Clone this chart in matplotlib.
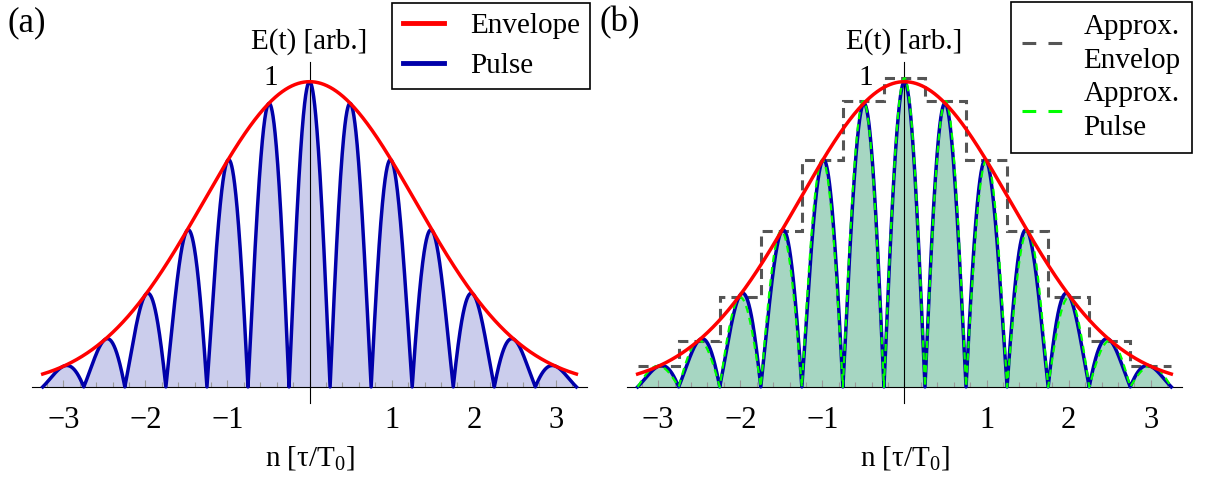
import numpy as np
import matplotlib
matplotlib.use('Agg')
import matplotlib.pyplot as plt
from matplotlib.ticker import MultipleLocator
from matplotlib.lines import Line2D

plt.rcParams['font.family'] = ['Liberation Serif', 'DejaVu Serif']
plt.rcParams['mathtext.fontset'] = 'custom'
plt.rcParams['mathtext.rm'] = 'Liberation Serif'
plt.rcParams['mathtext.it'] = 'Liberation Serif:italic'

# lobe centres (n) and their peak heights
lobe_centers = [-3.0, -2.5, -2.0, -1.5, -1.0, -0.5, 0.0, 0.5, 1.0, 1.5, 2.0, 2.5, 3.0]
lobe_peaks = [0.068, 0.15, 0.29, 0.505, 0.735, 0.926, 1.0, 0.926, 0.735, 0.505, 0.29, 0.15, 0.068]
tick_values = [-3, -2, -1, 1, 2, 3]
tick_labels = ['\u22123', '\u22122', '\u22121', '1', '2', '3']

n_min, n_max = -3.25, 3.25
n = np.linspace(n_min, n_max, 2601)
# gaussian envelope fitted through the read peaks
coef = np.polyfit(lobe_centers, np.log(lobe_peaks), 2)
envelope = np.exp(np.polyval(coef, n))
carrier = np.abs(np.cos(2 * np.pi * n))
pulse = envelope * carrier

# stepwise approximation: one level per lobe
edges = np.append(np.array(lobe_centers) - 0.25, lobe_centers[-1] + 0.25)
idx = np.clip(np.searchsorted(edges, n, side='right') - 1, 0, len(lobe_peaks) - 1)
approx_pulse = np.array(lobe_peaks)[idx] * carrier

RED = '#ff0000'
BLUE = '#0000aa'
GRAY = '#555555'
GREEN = '#00ff00'
FS = 21


def style_axis(ax):
    ax.set_xlim(-3.38, 3.38)
    ax.set_ylim(-0.052, 1.052)
    ax.spines['left'].set_position(('data', 0))
    ax.spines['bottom'].set_position(('data', 0))
    ax.spines['top'].set_visible(False)
    ax.spines['right'].set_visible(False)
    ax.spines['left'].set_linewidth(0.8)
    ax.spines['bottom'].set_linewidth(0.8)
    ax.set_yticks([])
    ax.set_xticks(tick_values)
    ax.set_xticklabels(tick_labels, fontsize=22)
    ax.xaxis.set_minor_locator(MultipleLocator(0.2))
    ax.tick_params(axis='x', which='major', direction='in', length=5, width=0.8,
                   color='#999999', pad=14)
    ax.tick_params(axis='x', which='minor', direction='in', length=3.5, width=0.8,
                   color='#999999')
    ax.text(0, 1.074, 'E(t) [arb.]', ha='center', va='bottom', fontsize=FS, clip_on=False)
    ax.text(-0.47, 1.0, '1', ha='center', va='center', fontsize=FS)
    ax.text(0, -0.256, r'n [τ/T$_0$]', ha='center', va='baseline', fontsize=FS, clip_on=False)
    ax.patch.set_visible(False)


fig = plt.figure(figsize=(12.05, 4.78), dpi=100)
ax1 = fig.add_axes([0.0266, 0.157, 0.4606, 0.713])
ax2 = fig.add_axes([0.5203, 0.157, 0.4606, 0.713])

# (a)
ax1.fill_between(n, 0, pulse, color='#cbcdec', lw=0, zorder=1)
ax1.plot(n, pulse, color=BLUE, lw=2.5, zorder=3)
ax1.plot(n, envelope, color=RED, lw=2.5, zorder=4)
style_axis(ax1)
leg1 = fig.legend(handles=[Line2D([], [], color=RED, lw=3.5),
                           Line2D([], [], color=BLUE, lw=3.5)],
                  labels=['Envelope', 'Pulse'],
                  loc='upper right', bbox_to_anchor=(0.4896, 0.994),
                  fontsize=FS, frameon=True, fancybox=False, framealpha=1,
                  edgecolor='black', handlelength=1.4, handletextpad=0.9,
                  labelspacing=0.45, borderpad=0.35, borderaxespad=0)
leg1.get_frame().set_linewidth(1.2)

# (b)
ax2.fill_between(n, 0, pulse, color='#a6d6c2', lw=0, zorder=1)
ax2.stairs(lobe_peaks, edges, baseline=None, color=GRAY, lw=2.2,
           linestyle=(0, (3.3, 2)), zorder=2)
ax2.plot(n, pulse, color=BLUE, lw=2.5, zorder=3)
ax2.plot(n, approx_pulse, color=GREEN, lw=1.6, linestyle=(0, (3.2, 2.3)), zorder=4)
ax2.plot(n, envelope, color=RED, lw=2.5, zorder=5)
style_axis(ax2)
leg2 = fig.legend(handles=[Line2D([], [], color=GRAY, lw=2.2, linestyle=(0, (4.5, 4))),
                           Line2D([], [], color=GREEN, lw=2.2, linestyle=(0, (4.5, 4)))],
                  labels=['Approx.\nEnvelop', 'Approx.\nPulse'],
                  loc='upper right', bbox_to_anchor=(0.9894, 0.996),
                  fontsize=FS, frameon=True, fancybox=False, framealpha=1,
                  edgecolor='black', handlelength=1.35, handletextpad=0.75,
                  labelspacing=0.25, borderpad=0.4, borderaxespad=0)
for t in leg2.get_texts():
    t.set_linespacing(1.4)
leg2.get_frame().set_linewidth(1.2)

fig.text(0.0066, 0.987, '(a)', ha='left', va='top', fontsize=25)
fig.text(0.4979, 0.987, '(b)', ha='left', va='top', fontsize=25)

fig.savefig('out.png', dpi=100)
